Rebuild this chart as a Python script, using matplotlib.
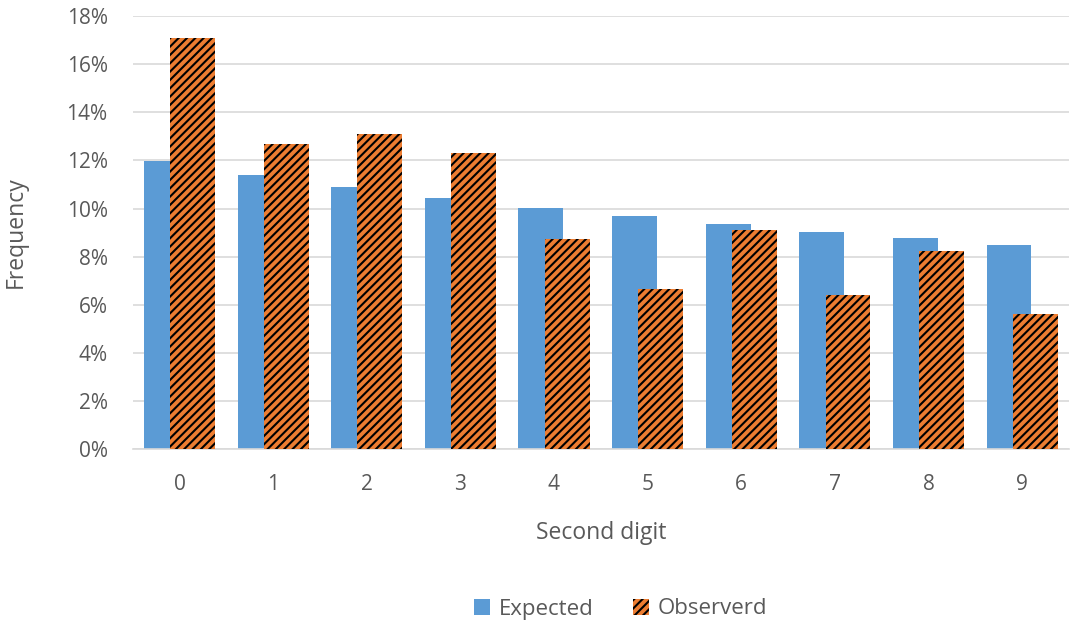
import matplotlib
matplotlib.use("Agg")
import matplotlib.pyplot as plt
import numpy as np
from matplotlib.ticker import FuncFormatter

digits = ["0", "1", "2", "3", "4", "5", "6", "7", "8", "9"]
expected = [11.97, 11.39, 10.88, 10.43, 10.03, 9.67, 9.34, 9.04, 8.76, 8.50]
observed = [17.1, 12.7, 13.1, 12.3, 8.75, 6.65, 9.1, 6.4, 8.25, 5.6]
yticks = [0, 2, 4, 6, 8, 10, 12, 14, 16, 18]

plt.rcParams['font.family'] = ['Open Sans', 'DejaVu Sans']
plt.rcParams['hatch.linewidth'] = 1.5
text_color = '#595959'

fig = plt.figure(figsize=(10.7, 6.26), dpi=100)
ax = fig.add_axes([0.124, 0.283, 0.875, 0.691])

x = np.arange(len(digits))
width = 0.48
ax.bar(x - 0.14, expected, width, color='#5B9BD5', label='Expected', zorder=2)
ax.bar(x + 0.14, observed, width, color='#ED7D31', edgecolor='black', linewidth=0,
       hatch='////', label='Observerd', zorder=3)

ax.set_xlim(-0.5, len(digits) - 0.5)
ax.set_ylim(0, 18)
ax.set_yticks(yticks)
ax.yaxis.set_major_formatter(FuncFormatter(lambda v, p: f"{v:.0f}%"))
ax.set_xticks(x)
ax.set_xticklabels(digits)

ax.grid(axis='y', color='#D9D9D9', linewidth=1.2, zorder=0)
ax.set_axisbelow(True)
for s in ['top', 'right', 'left']:
    ax.spines[s].set_visible(False)
ax.spines['bottom'].set_color('#D9D9D9')
ax.spines['bottom'].set_linewidth(1.2)
ax.tick_params(axis='x', length=0, labelsize=15, colors=text_color, pad=18)
ax.tick_params(axis='y', length=0, labelsize=15, colors=text_color, pad=18)

ax.set_xlabel('Second digit', fontsize=16.5, color=text_color, labelpad=19)
ax.set_ylabel('Frequency', fontsize=16.5, color=text_color, labelpad=28)

fig.legend(loc='center', bbox_to_anchor=(0.58, 1 - 609 / 626), ncol=2, frameon=False,
           fontsize=16, labelcolor=text_color, handlelength=0.7, handleheight=0.7,
           handletextpad=0.4, columnspacing=1.8)

fig.savefig('out.png', dpi=100)
